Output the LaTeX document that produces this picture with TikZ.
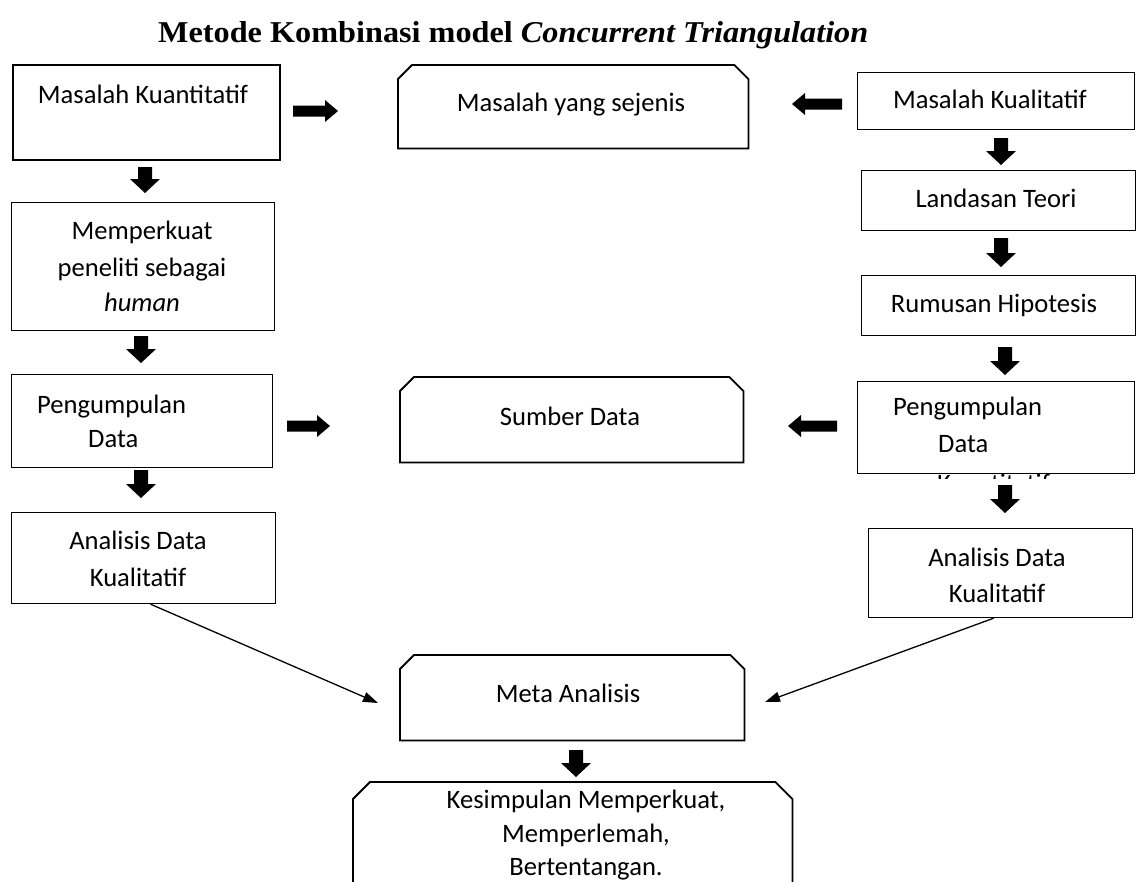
\documentclass[tikz,border=0pt]{standalone}
\usepackage{fontspec}
\usepackage{graphicx}
\setmainfont{Carlito}
\newfontfamily\titlefont{Liberation Serif}
\usetikzlibrary{arrows.meta,calc}
\newcommand{\blkdown}[3]{\fill (#1-7,#2) -- (#1+7,#2) -- (#1+7,#3-14) -- (#1+15,#3-14) -- (#1,#3) -- (#1-15,#3-14) -- (#1-7,#3-14) -- cycle;}
\newcommand{\blkright}[3]{\fill (#1,#3-5.5) -- (#2-13,#3-5.5) -- (#2-13,#3-11) -- (#2,#3) -- (#2-13,#3+11) -- (#2-13,#3+5.5) -- (#1,#3+5.5) -- cycle;}
\newcommand{\blkleft}[3]{\fill (#2,#3-5.5) -- (#1+13,#3-5.5) -- (#1+13,#3-11) -- (#1,#3) -- (#1+13,#3+11) -- (#1+13,#3+5.5) -- (#2,#3+5.5) -- cycle;}
\tikzset{
  box/.style={draw, line width=1.2pt, rectangle, inner sep=0pt, anchor=north west},
  bbox/.style={box, line width=1.8pt},
  ghost/.style={rectangle, inner sep=0pt, anchor=north west},
  chamf/.style={line width=1.8pt, line join=miter},
  txt/.style={inner sep=0pt, anchor=base, font=\fontsize{26.6pt}{35pt}\selectfont},
  txtl/.style={txt, anchor=base west},
  conn/.style={line width=1.3pt, -{Triangle[length=15pt,width=10pt]}}
}
\begin{document}
\begin{tikzpicture}[x=1pt,y=-1pt]
\useasboundingbox (0,0) rectangle (1138,881);
\clip (0,0) rectangle (1138,881);
\fill[white] (0,0) rectangle (1138,881);

% title
\node[inner sep=0pt, anchor=base west] (title) at (158,42) {\resizebox{710pt}{21pt}{\titlefont\bfseries Metode Kombinasi model \textit{Concurrent Triangulation}}};

% boxes
\node[bbox, minimum width=267pt, minimum height=95pt] (B1) at (12,64) {};
\node[ghost, minimum width=350pt, minimum height=83pt] (B2) at (398,65) {};
\node[box, minimum width=277pt, minimum height=57pt] (B3) at (857,72) {};
\node[box, minimum width=263pt, minimum height=128pt] (L2) at (11,202) {};
\node[box, minimum width=261pt, minimum height=93pt] (L3) at (11,374) {};
\node[box, minimum width=264pt, minimum height=91pt] (L4) at (11,512) {};
\node[ghost, minimum width=343pt, minimum height=85pt] (S) at (400,377) {};
\node[box, minimum width=274pt, minimum height=60pt] (R2) at (861,170) {};
\node[box, minimum width=274pt, minimum height=60pt] (R3) at (861,275) {};
\node[box, minimum width=277pt, minimum height=92pt] (R4) at (857,381) {};
\node[box, minimum width=264pt, minimum height=89pt] (R5) at (868,528) {};
\node[ghost, minimum width=344pt, minimum height=85pt] (M) at (400,655) {};
\node[ghost, minimum width=439pt, minimum height=170pt] (K) at (353,782) {};

% chamfered boxes
\foreach \n/\c in {B2/14,S/14,M/14,K/17}{
  \draw[chamf] ([yshift=-\c pt]\n.north west) -- ([xshift=\c pt]\n.north west) -- ([xshift=-\c pt]\n.north east) -- ([yshift=-\c pt]\n.north east) -- (\n.south east) -- (\n.south west) -- cycle;
}

% texts
\node[txt] (t1) at (143,103) {Masalah Kuantitatif};
\node[txt] (t2) at (571,111) {Masalah yang sejenis};
\node[txt] (t3) at (990,108) {Masalah Kualitatif};
\node[txt] (t4a) at (142,239) {Memperkuat};
\node[txt] (t4b) at (142,276) {peneliti sebagai};
\node[txt] (t4c) at (142,311) {\itshape human};
\node[txtl] (t5a) at (37,413) {Pengumpulan};
\node[txtl] (t5b) at (88,447) {Data};
\node[txt] (t6a) at (138,549) {Analisis Data};
\node[txt] (t6b) at (138,586) {Kualitatif};
\node[txt] (t7) at (570,425) {Sumber Data};
\node[txt] (t8) at (996,207) {Landasan Teori};
\node[txt] (t9) at (994,312) {Rumusan Hipotesis};
\node[txtl] (t10a) at (893,415) {Pengumpulan};
\node[txtl] (t10b) at (938,452) {Data};
\begin{scope}
\clip (857,474) rectangle (1134,478);
\node[txtl] (t10c) at (937,492) {Kuantitatif};
\end{scope}
\node[txt] (t11a) at (997,566) {Analisis Data};
\node[txt] (t11b) at (997,602) {Kualitatif};
\node[txt] (t12) at (568,702) {Meta Analisis};
\node[txt] (t13a) at (586,808) {Kesimpulan Memperkuat,};
\node[txt] (t13b) at (586,842) {Memperlemah,};
\node[txt] (t13c) at (586,875) {Bertentangan.};

% block arrows
\blkright{293}{338}{111}
\blkleft{792}{842}{104}
\blkright{287}{330}{426}
\blkleft{788}{837}{426}
\blkdown{145}{167}{193}
\blkdown{141}{336}{363}
\blkdown{141}{470}{498}
\blkdown{1001}{138}{165}
\blkdown{1001}{238}{267}
\blkdown{1005}{347}{375}
\blkdown{1005}{485}{513}
\blkdown{576}{750}{777}

% connectors to meta analysis
\coordinate (mL) at (378,703);
\coordinate (mR) at (765,702);
\draw[conn] ([xshift=7pt]L4.south) -- (mL);
\draw[conn] ([xshift=-7pt]R5.south) -- (mR);
\end{tikzpicture}
\end{document}
